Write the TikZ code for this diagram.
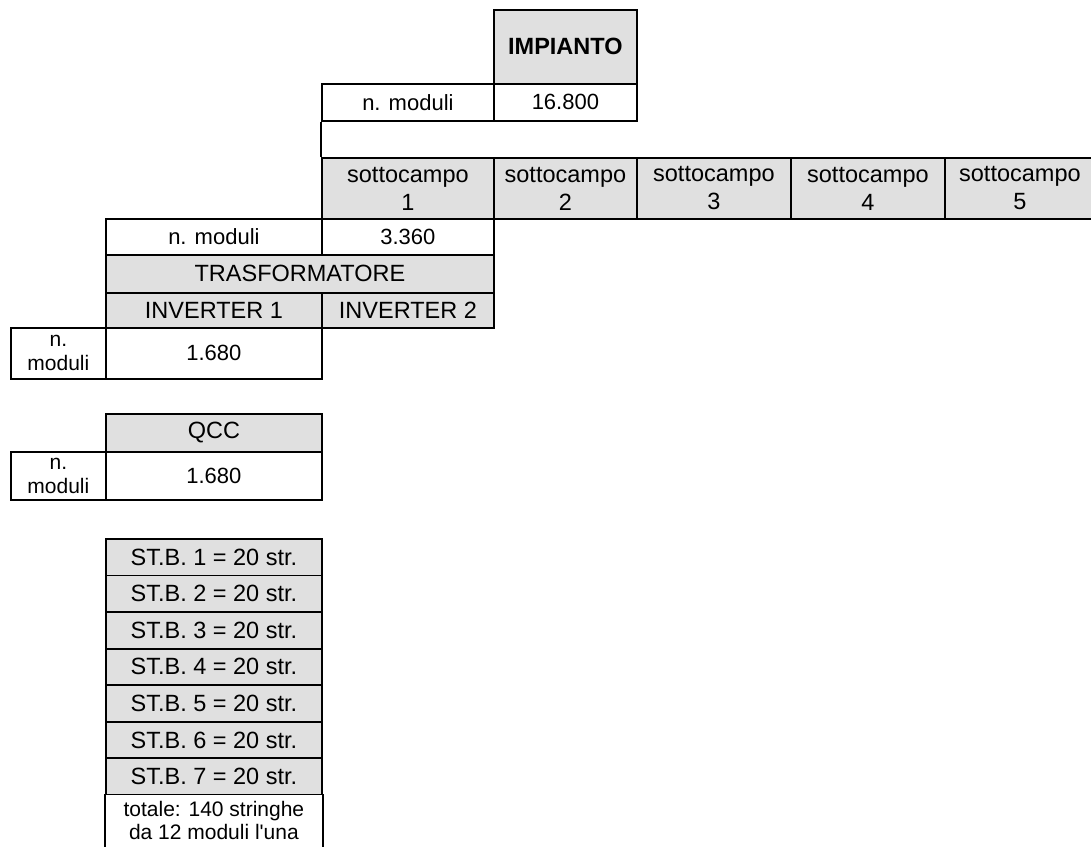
\documentclass[tikz,border=0pt]{standalone}
\usepackage{fontspec}
\setmainfont{Liberation Sans}[Ligatures=TeXOff]
\definecolor{cellgray}{RGB}{224,224,224}
\begin{document}
\begin{tikzpicture}[x=1pt,y=-1pt,
  cell/.style={draw=black, line width=1.8pt, inner sep=0pt, anchor=north west, align=center},
  hdr/.style={cell, fill=cellgray, font=\fontsize{23.5}{28}\selectfont},
  val/.style={cell, fill=white, font=\fontsize{22}{26}\selectfont},
  small/.style={font=\fontsize{21}{24}\selectfont},
  tiny/.style={font=\fontsize{21}{23}\selectfont},
  border/.style={line width=1.8pt, draw=black}
]
\useasboundingbox (0,0) rectangle (1091,846);

% IMPIANTO block
\node[hdr, minimum width=143pt, minimum height=74pt] (imp) at (493,9) {\textbf{IMPIANTO}};
\node[val, minimum width=172pt, minimum height=37pt] (nm0) at (321,83) {n. moduli};
\node[val, minimum width=143pt, minimum height=37pt] (v0) at (493,83) {16.800};

% sottocampi
\node[hdr, minimum width=172pt, minimum height=61pt] (sc1) at (321,157) {sottocampo\\1};
\node[hdr, minimum width=143pt, minimum height=61pt] (sc2) at (493,157) {sottocampo\\2};
\node[hdr, minimum width=154pt, minimum height=61pt] (sc3) at (636,157) {sottocampo\\3};
\node[hdr, minimum width=154pt, minimum height=61pt] (sc4) at (790,157) {sottocampo\\4};
\node[hdr, minimum width=150pt, minimum height=61pt] (sc5) at (944,157) {sottocampo\\5};
\draw[border] (nm0.south west) -- (sc1.north west);

% sottocampo 1 detail
\node[val, minimum width=216pt, minimum height=36pt] (nm1) at (105,218) {n. moduli};
\node[val, minimum width=172pt, minimum height=36pt] (v1) at (321,218) {3.360};
\node[hdr, minimum width=388pt, minimum height=38pt] (tr) at (105,254) {TRASFORMATORE};
\node[hdr, minimum width=216pt, minimum height=35pt] (inv1) at (105,292) {INVERTER 1};
\node[hdr, minimum width=172pt, minimum height=35pt] (inv2) at (321,292) {INVERTER 2};
\node[val, small, minimum width=95pt, minimum height=51pt] (nm2) at (10,327) {n.\\moduli};
\node[val, minimum width=216pt, minimum height=51pt] (v2) at (105,327) {1.680};

% QCC
\node[hdr, minimum width=216pt, minimum height=38pt] (qcc) at (105,413) {QCC};
\node[val, small, minimum width=95pt, minimum height=48pt] (nm3) at (10,451) {n.\\moduli};
\node[val, minimum width=216pt, minimum height=48pt] (v3) at (105,451) {1.680};

% string boxes
\foreach \i in {1,...,7}{
  \node[hdr, minimum width=216pt, minimum height=36.57pt] (stb\i) at (105,{538+36.57*(\i-1)}) {ST.B. \i\ = 20 str.};
}
\node[val, tiny, draw=none, minimum width=216pt, minimum height=52pt] (tot) at (105,794) {totale: 140 stringhe\\da 12 moduli l'una};
\draw[border] (tot.north west) -- (tot.south west);
\draw[border] (tot.north east) -- (tot.south east);
\end{tikzpicture}
\end{document}
